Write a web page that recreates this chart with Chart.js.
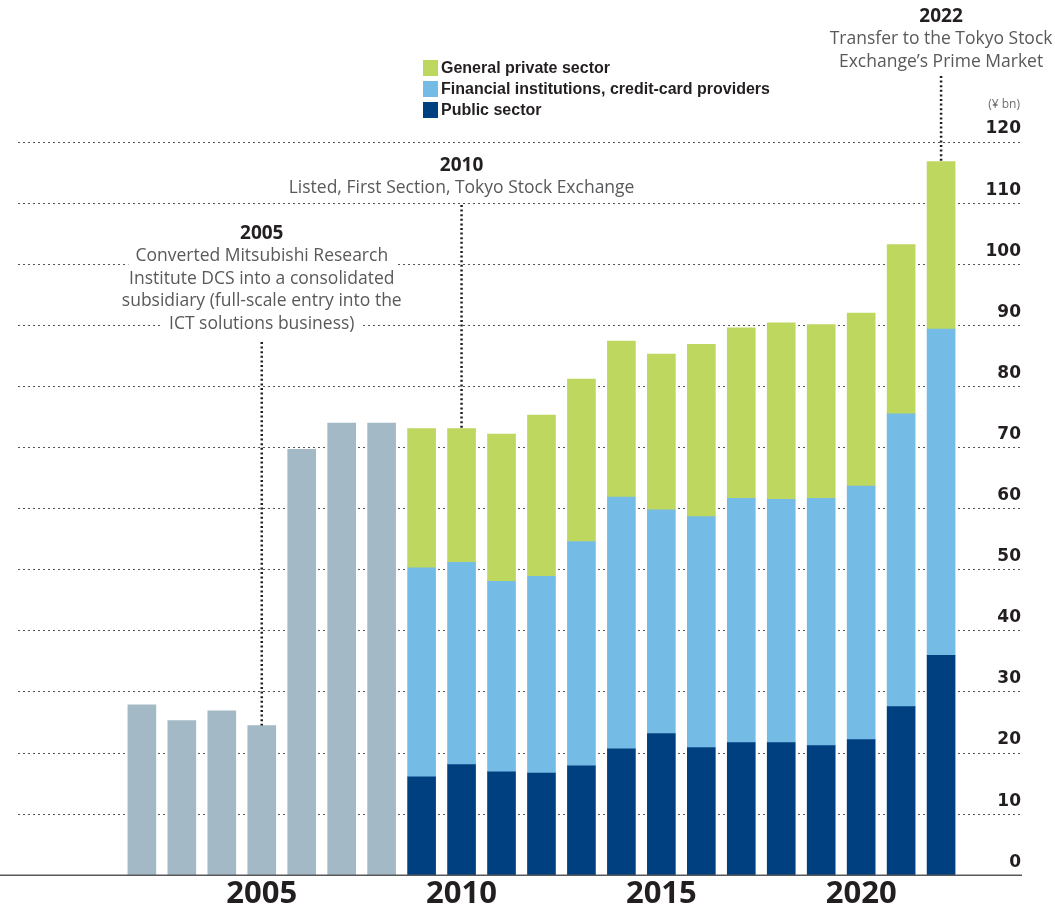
<!DOCTYPE html>
<html><head><meta charset="utf-8">
<script src="https://cdn.jsdelivr.net/npm/chart.js@4"></script>
<style>html,body{margin:0;padding:0;background:#fff;overflow:hidden}#wrap{width:1055px;height:913px}</style>
</head><body><div id="wrap"><canvas id="c" width="1055" height="913"></canvas></div>
<script>
// ---- data ----
const earlyYears = [2002, 2003, 2004, 2005, 2006, 2007, 2008];
const earlyTotals = [27.9, 25.3, 26.9, 24.5, 69.7, 74.0, 74.0];
const segYears = [2009, 2010, 2011, 2012, 2013, 2014, 2015, 2016, 2017, 2018, 2019, 2020, 2021, 2022];
const publicSector = [16.1, 18.1, 16.9, 16.7, 17.9, 20.7, 23.2, 20.9, 21.7, 21.7, 21.2, 22.2, 27.6, 36.0];
const financialInst = [34.2, 33.1, 31.2, 32.2, 36.7, 41.2, 36.6, 37.8, 40.0, 39.8, 40.5, 41.5, 47.9, 53.4];
const generalPrivate = [22.8, 21.9, 24.1, 26.4, 26.6, 25.5, 25.5, 28.2, 27.9, 28.9, 28.4, 28.3, 27.7, 27.4];
const seriesNames = ['Public sector', 'Financial institutions, credit-card providers', 'General private sector'];
const yTickValues = [0, 10, 20, 30, 40, 50, 60, 70, 80, 90, 100, 110, 120];
const xTickValues = [2005, 2010, 2015, 2020];
const unitLabel = '(\u00a5 bn)';
const noteYears = [2005, 2010, 2022];
const noteTitles = ['2005', '2010', '2022'];
const noteLines = [
  ['Converted Mitsubishi Research', 'Institute DCS into a consolidated', 'subsidiary (full-scale entry into the', 'ICT solutions business)'],
  ['Listed, First Section, Tokyo Stock Exchange'],
  ['Transfer to the Tokyo Stock', 'Exchange\u2019s Prime Market']
];

// ---- styles / layout ----
const COLORS = { gray: '#a3b9c5', pub: '#004080', fin: '#74bce6', gen: '#bed75f' };
const noteTitleY = [234, 166, 17];
const noteLeaderTop = [342, 205, 76];
const NOTE_LH = 22.5;

function pts(xs, ys) { return xs.map((x, i) => ({ x: x, y: ys[i] })); }
function totalFor(year) {
  const e = earlyYears.indexOf(year);
  if (e >= 0) return earlyTotals[e];
  const i = segYears.indexOf(year);
  return publicSector[i] + financialInst[i] + generalPrivate[i];
}

const decor = {
  id: 'decor',
  afterDraw(chart) {
    const ctx = chart.ctx, xs = chart.scales.x, ys = chart.scales.y, ca = chart.chartArea;
    ctx.save();
    // baseline
    const y0 = ys.getPixelForValue(0);
    ctx.strokeStyle = '#58595b'; ctx.lineWidth = 1.5; ctx.setLineDash([]);
    ctx.beginPath(); ctx.moveTo(0, y0); ctx.lineTo(ca.right + 1, y0); ctx.stroke();

    // unit label
    ctx.font = '12px "Open Sans"'; ctx.fillStyle = '#6d6e71';
    ctx.textAlign = 'right'; ctx.textBaseline = 'middle';
    ctx.fillText(unitLabel, ca.right - 1, ys.getPixelForValue(120) - 37);

    // legend (top to bottom: general, financial, public)
    const ds = chart.data.datasets.filter(d => d.inLegend).slice().reverse();
    ds.forEach((d, k) => {
      const cy = 68 + k * 21;
      ctx.fillStyle = d.backgroundColor;
      ctx.fillRect(423, cy - 8, 15, 16);
      ctx.fillStyle = '#231f20';
      ctx.font = 'bold 16px "Liberation Sans Narrow", "Arial Narrow", sans-serif';
      ctx.textAlign = 'left'; ctx.textBaseline = 'middle';
      ctx.fillText(d.label, 441, cy + 1);
    });

    // annotations
    noteYears.forEach((yr, n) => {
      const cx = xs.getPixelForValue(yr);
      // leader
      ctx.strokeStyle = '#231f20'; ctx.lineWidth = 2.5; ctx.setLineDash([2, 2.6]);
      ctx.beginPath(); ctx.moveTo(cx, noteLeaderTop[n]); ctx.lineTo(cx, ys.getPixelForValue(totalFor(yr))); ctx.stroke();
      ctx.setLineDash([]);
      ctx.textAlign = 'center'; ctx.textBaseline = 'middle';
      ctx.font = 'bold 19px "Open Sans"'; ctx.fillStyle = '#231f20';
      ctx.fillText(noteTitles[n], cx, noteTitleY[n]);
      ctx.font = '17.5px "Open Sans"';
      noteLines[n].forEach((t, j) => {
        const ty = noteTitleY[n] + NOTE_LH * (j + 1);
        const w = ctx.measureText(t).width;
        ctx.fillStyle = '#fff';
        ctx.fillRect(cx - w / 2 - 7, ty - 10, w + 14, 20);
        ctx.fillStyle = '#58595b';
        ctx.fillText(t, cx, ty);
      });
    });
    ctx.restore();
  }
};

new Chart(document.getElementById('c'), {
  type: 'bar',
  data: {
    datasets: [
      { label: 'Total', data: pts(earlyYears, earlyTotals), backgroundColor: COLORS.gray, inLegend: false },
      { label: seriesNames[0], data: pts(segYears, publicSector), backgroundColor: COLORS.pub, inLegend: true },
      { label: seriesNames[1], data: pts(segYears, financialInst), backgroundColor: COLORS.fin, inLegend: true },
      { label: seriesNames[2], data: pts(segYears, generalPrivate), backgroundColor: COLORS.gen, inLegend: true }
    ]
  },
  options: {
    responsive: false,
    animation: false,
    devicePixelRatio: 1,
    layout: { padding: { left: 18, right: 34, top: 142, bottom: 0 } },
    datasets: { bar: { barThickness: 28, borderWidth: 0 } },
    plugins: { legend: { display: false }, tooltip: { enabled: false } },
    scales: {
      x: {
        type: 'linear', min: 1998.9, max: 2024.0, stacked: true, offset: false,
        afterBuildTicks: s => { s.ticks = xTickValues.map(v => ({ value: v })); },
        grid: { display: false, drawTicks: false },
        border: { display: false },
        ticks: {
          callback: v => String(v), autoSkip: false, maxRotation: 0, padding: 2,
          color: '#231f20', font: { family: '"Open Sans"', weight: 'bold', size: 31, lineHeight: 1.09 }
        }
      },
      y: {
        position: 'right', min: 0, max: 120, stacked: true,
        afterBuildTicks: s => { s.ticks = yTickValues.map(v => ({ value: v })); },
        grid: { color: '#555', lineWidth: 1, drawTicks: false },
        border: { display: false, dash: [2, 3] },
        ticks: {
          mirror: true, padding: 0, labelOffset: -13,
          callback: v => String(v),
          color: '#231f20', font: { family: '"DejaVu Sans"', weight: 'bold', size: 17 }
        }
      }
    }
  },
  plugins: [decor]
});
</script>
</body></html>
